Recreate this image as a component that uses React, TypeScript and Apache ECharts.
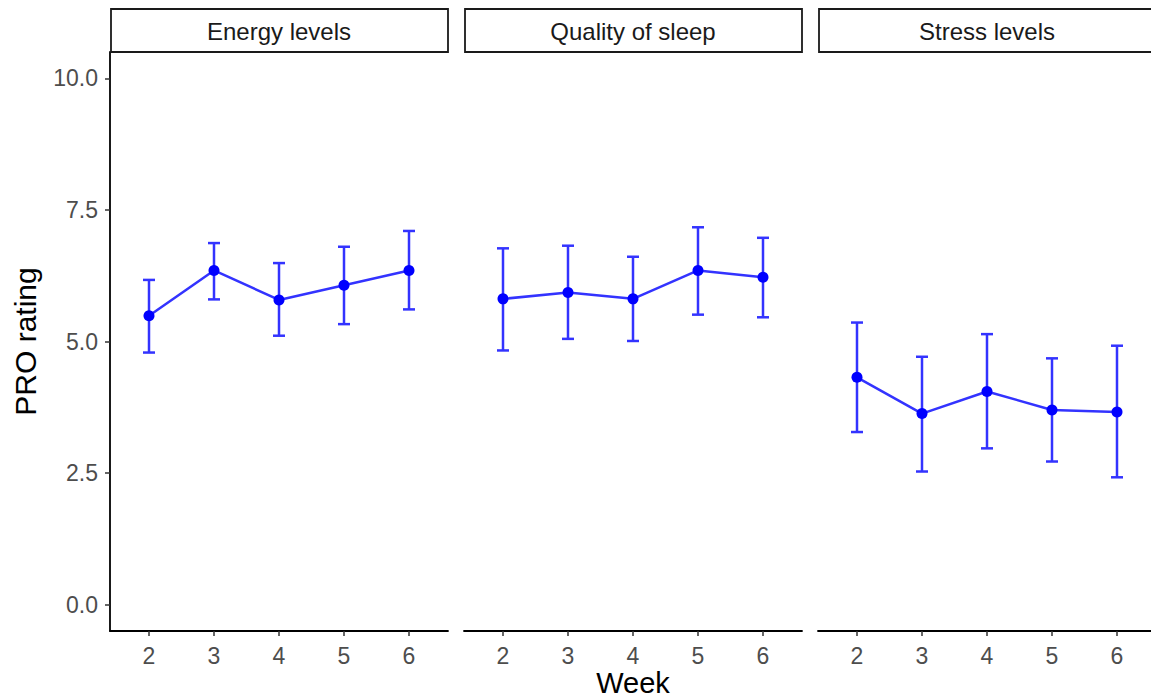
import React, { useEffect, useRef } from "react";
import * as echarts from "echarts";

const weeks = [2, 3, 4, 5, 6];
const panels = ["Energy levels", "Quality of sleep", "Stress levels"];
const yTicks = [0, 2.5, 5, 7.5, 10];
const xTitle = "Week";
const yTitle = "PRO rating";

const energyMean = [5.49, 6.35, 5.79, 6.07, 6.35];
const energyLower = [4.79, 5.8, 5.11, 5.33, 5.61];
const energyUpper = [6.17, 6.87, 6.49, 6.8, 7.1];

const sleepMean = [5.81, 5.93, 5.81, 6.35, 6.22];
const sleepLower = [4.83, 5.05, 5.01, 5.51, 5.46];
const sleepUpper = [6.77, 6.82, 6.61, 7.17, 6.97];

const stressMean = [4.32, 3.63, 4.05, 3.7, 3.66];
const stressLower = [3.28, 2.53, 2.97, 2.72, 2.42];
const stressUpper = [5.36, 4.71, 5.14, 4.68, 4.92];

const means = [energyMean, sleepMean, stressMean];
const lowers = [energyLower, sleepLower, stressLower];
const uppers = [energyUpper, sleepUpper, stressUpper];

const FONT = "Liberation Sans, Arial, Helvetica, sans-serif";
const LINE_COLOR = "#3333ff";
const POINT_COLOR = "#0000ff";

export default function App() {
  const ref = useRef<HTMLDivElement>(null);

  useEffect(() => {
    if (!ref.current) return;
    const chart = echarts.init(ref.current, undefined, { renderer: "svg" });

    const gridLefts = [110, 464, 818];
    const gridW = 338;
    const gridTop = 52;
    const gridH = 579;

    const grids = gridLefts.map((l) => ({
      left: l,
      top: gridTop,
      width: gridW,
      height: gridH,
      containLabel: false,
      outerBoundsMode: "none",
    }));

    const xAxes = gridLefts.map((_, i) => ({
      type: "value",
      gridIndex: i,
      min: 1.4,
      max: 6.6,
      splitLine: { show: false },
      axisLine: { show: true, onZero: false, lineStyle: { color: "#000", width: 1.8 } },
      axisTick: { show: true, length: 5, customValues: weeks, lineStyle: { color: "#333", width: 1.5 } },
      axisLabel: {
        customValues: weeks,
        fontSize: 23,
        color: "#4d4d4d",
        fontFamily: FONT,
        margin: 13,
      },
    }));

    const yAxes = gridLefts.map((_, i) => ({
      type: "value",
      gridIndex: i,
      min: -0.5,
      max: 10.5,
      show: i === 0,
      splitLine: { show: false },
      axisLine: { show: true, onZero: false, lineStyle: { color: "#000", width: 1.8 } },
      axisTick: { show: true, length: 5, customValues: yTicks, lineStyle: { color: "#333", width: 1.5 } },
      axisLabel: {
        customValues: yTicks,
        formatter: (v: number) => v.toFixed(1),
        fontSize: 23,
        color: "#4d4d4d",
        fontFamily: FONT,
        margin: 12,
      },
      name: i === 0 ? yTitle : "",
      nameLocation: "middle",
      nameRotate: 90,
      nameGap: 70,
      nameTextStyle: { fontSize: 30, color: "#000", fontFamily: FONT },
    }));

    const series: any[] = [];
    panels.forEach((_, i) => {
      series.push({
        type: "custom",
        xAxisIndex: i,
        yAxisIndex: i,
        z: 2,
        data: weeks.map((w, j) => [w, lowers[i][j], uppers[i][j]]),
        encode: { x: 0, y: [1, 2] },
        renderItem: (params: any, api: any) => {
          const x = api.value(0);
          const p1 = api.coord([x, api.value(1)]);
          const p2 = api.coord([x, api.value(2)]);
          const hw = 6;
          const st = { stroke: LINE_COLOR, lineWidth: 2.5 };
          return {
            type: "group",
            children: [
              { type: "line", shape: { x1: p1[0], y1: p1[1], x2: p2[0], y2: p2[1] }, style: st },
              { type: "line", shape: { x1: p1[0] - hw, y1: p1[1], x2: p1[0] + hw, y2: p1[1] }, style: st },
              { type: "line", shape: { x1: p2[0] - hw, y1: p2[1], x2: p2[0] + hw, y2: p2[1] }, style: st },
            ],
          };
        },
      });
      series.push({
        type: "line",
        xAxisIndex: i,
        yAxisIndex: i,
        z: 3,
        data: weeks.map((w, j) => [w, means[i][j]]),
        symbol: "circle",
        symbolSize: 11,
        showSymbol: true,
        itemStyle: { color: POINT_COLOR },
        lineStyle: { color: LINE_COLOR, width: 2.5 },
      });
    });

    const graphics: any[] = [];
    panels.forEach((p, i) => {
      graphics.push({
        type: "rect",
        shape: { x: gridLefts[i] + 1, y: 9, width: gridW - 1, height: 43 },
        style: { fill: "#fff", stroke: "#1a1a1a", lineWidth: 1.8 },
        z: 10,
      });
      graphics.push({
        type: "text",
        x: gridLefts[i] + gridW / 2,
        y: 31,
        style: {
          text: p,
          fontSize: 24,
          fontFamily: FONT,
          fill: "#1a1a1a",
          align: "center",
          verticalAlign: "middle",
        },
        z: 11,
      });
    });
    graphics.push({
      type: "text",
      x: gridLefts[1] + gridW / 2,
      y: 697,
      style: {
        text: xTitle,
        fontSize: 29,
        fontFamily: FONT,
        fill: "#000",
        align: "center",
        verticalAlign: "bottom",
      },
      z: 11,
    });

    chart.setOption({
      animation: false,
      backgroundColor: "#fff",
      grid: grids,
      xAxis: xAxes,
      yAxis: yAxes,
      series,
      graphic: graphics,
    });

    return () => chart.dispose();
  }, []);

  return (
    <div
      ref={ref}
      style={{ position: "absolute", left: 0, top: 0, width: 1151, height: 699 }}
    />
  );
}
